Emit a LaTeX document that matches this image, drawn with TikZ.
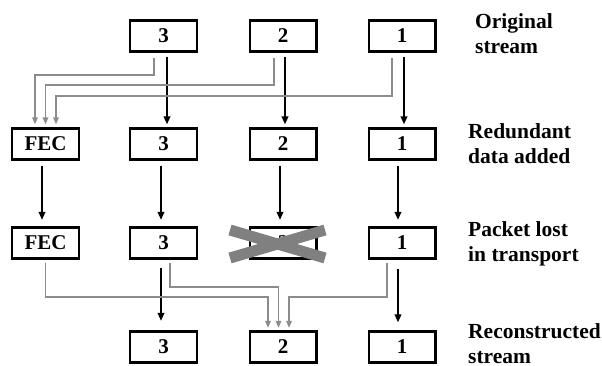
\documentclass[tikz,border=0pt]{standalone}
\usepackage{fontspec}
\setmainfont{Liberation Serif}
\usetikzlibrary{arrows.meta,calc}

\definecolor{linkgray}{RGB}{140,140,140}
\definecolor{crossgray}{RGB}{128,128,128}

\tikzset{
  pkt/.style={draw, line width=2.2pt, minimum width=66.8pt, minimum height=31pt,
    inner sep=0pt, font=\fontsize{21}{24}\selectfont\bfseries},
  rowlabel/.style={anchor=base west, inner sep=0pt, align=left,
    font=\fontsize{21.5}{25}\selectfont\bfseries},
  blk/.style={line width=2pt, -{Triangle[length=8pt,width=6.5pt]}},
  gry/.style={linkgray, line width=1.6pt, -{Triangle[length=7pt,width=5.5pt]}},
  lost/.style={crossgray, line width=11pt}
}

\begin{document}
\begin{tikzpicture}[x=1pt,y=1pt]
\useasboundingbox (0,0) rectangle (602,365);

% original stream
\node[pkt] (r1c3) at (163.5,329) {3};
\node[pkt] (r1c2) at (283,329) {2};
\node[pkt] (r1c1) at (402,329) {1};

% redundant data added
\node[pkt] (r2f)  at (45.5,221) {FEC};
\node[pkt] (r2c3) at (163.5,221) {3};
\node[pkt] (r2c2) at (283,221) {2};
\node[pkt] (r2c1) at (402,221) {1};

% packet lost in transport
\node[pkt] (r3f)  at (45.5,122) {FEC};
\node[pkt] (r3c3) at (163.5,122) {3};
\node[pkt] (r3c2) at (283,122) {2};
\node[pkt] (r3c1) at (402,122) {1};

% reconstructed stream
\node[pkt] (r4c3) at (163.5,18) {3};
\node[pkt] (r4c2) at (283,18) {2};
\node[pkt] (r4c1) at (402,18) {1};

% row labels (anchored on the baseline of their second line)
\node[rowlabel] (l1) at (475,312) {Original\\stream};
\node[rowlabel] (l2) at (468,201.7) {Redundant\\data added};
\node[rowlabel] (l3) at (468,103.3) {Packet lost\\in transport};
\node[rowlabel] (l4) at (468,1.9) {Reconstructed\\stream};

% packets passed straight down
\draw[blk, shorten <=4pt, shorten >=3pt] ([xshift=3.5pt]r1c3.south) -- ([xshift=3.5pt]r2c3.north);
\draw[blk, shorten <=4pt, shorten >=3pt] ([xshift=2pt]r1c2.south) -- ([xshift=2pt]r2c2.north);
\draw[blk, shorten <=4pt, shorten >=3pt] ([xshift=2pt]r1c1.south) -- ([xshift=2pt]r2c1.north);

\draw[blk, shorten <=5pt, shorten >=6.5pt] ([xshift=-3.5pt]r2f.south) -- ([xshift=-3.5pt]r3f.north);
\draw[blk, shorten <=5pt, shorten >=6.5pt] ([xshift=-2.5pt]r2c3.south) -- ([xshift=-2.5pt]r3c3.north);
\draw[blk, shorten <=5pt, shorten >=6.5pt] ([xshift=-3pt]r2c2.south) -- ([xshift=-3pt]r3c2.north);
\draw[blk, shorten <=5pt, shorten >=6.5pt] ([xshift=-4pt]r2c1.south) -- ([xshift=-4pt]r3c1.north);

\draw[blk, shorten <=8pt, shorten >=9.5pt] ([xshift=-2.5pt]r3c3.south) -- ([xshift=-2.5pt]r4c3.north);
\draw[blk, shorten <=9pt, shorten >=8pt] ([xshift=-4pt]r3c1.south) -- ([xshift=-4pt]r4c1.north);

% packets feeding the FEC block
\draw[gry, shorten >=3pt] ($(r1c3.south)+(-9.5,-5)$) |- ($(r2f.north)+(-10.5,52.5)$) -- ($(r2f.north)+(-10.5,0)$);
\draw[gry, shorten >=3pt] ($(r1c2.south)+(-9,-5)$) |- ($(r2f.north)+(0,42.5)$) -- (r2f.north);
\draw[gry, shorten >=3pt] ($(r1c1.south)+(-10,-5)$) |- ($(r2f.north)+(10.5,31.5)$) -- ($(r2f.north)+(10.5,0)$);

% packet 2 rebuilt from FEC, 3 and 1
\draw[gry, shorten >=2.5pt] ($(r3f.south)+(0,-3)$) |- ($(r4c2.north)+(-15,33.5)$) -- ($(r4c2.north)+(-15,0)$);
\draw[gry, shorten >=2.5pt] ($(r3c3.south)+(6.5,-3)$) |- ($(r4c2.north)+(-4.5,43.5)$) -- ($(r4c2.north)+(-4.5,0)$);
\draw[gry, shorten >=2.5pt] ($(r3c1.south)+(-15,-3)$) |- ($(r4c2.north)+(6,33.5)$) -- ($(r4c2.north)+(6,0)$);

% lost packet struck out
\draw[lost] ($(r3c2.center)+(-53,13)$) -- ($(r3c2.center)+(42,-15)$);
\draw[lost] ($(r3c2.center)+(-53,-15)$) -- ($(r3c2.center)+(42,13)$);
\end{tikzpicture}
\end{document}
